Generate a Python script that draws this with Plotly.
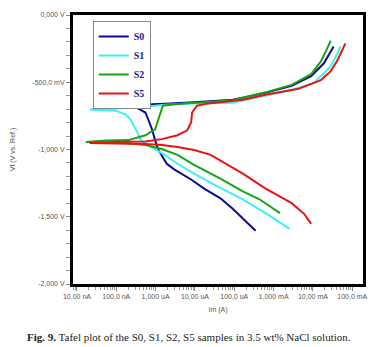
import plotly.graph_objects as go

# ---------------- data (current in A, potential in V) ----------------
s0_i = [3.48e-4, 1.65e-4, 9.3e-5, 4.45e-5, 1.68e-5, 8.0e-6, 3.03e-6, 1.92e-6, 1.44e-6, 1.15e-6,
        9.7e-7, 8.1e-7, 6.5e-7, 5.5e-7, 3.66e-7, 3.08e-7, 9.8e-8, 3.5e-8,
        9.8e-8, 3.08e-7, 1.71e-6, 9.5e-6, 9.3e-5, 6.15e-4, 2.88e-3, 9.0e-3, 1.9e-2, 2.83e-2, 3.36e-2]
s0_e = [-1.604, -1.509, -1.443, -1.363, -1.289, -1.223, -1.150, -1.106, -1.040, -0.996,
        -0.930, -0.850, -0.777, -0.725, -0.696, -0.689, -0.685, -0.681,
        -0.674, -0.670, -0.659, -0.648, -0.630, -0.579, -0.527, -0.454, -0.359, -0.271, -0.234]

s1_i = [2.56e-3, 5.19e-4, 1.65e-4, 9.3e-5, 2.98e-5, 9.5e-6, 3.6e-6, 1.71e-6, 9.7e-7, 6.5e-7,
        4.86e-7, 4.1e-7, 3.45e-7, 2.75e-7, 2.32e-7, 1.74e-7, 9.8e-8, 3.13e-8, 2.1e-8,
        3.13e-8, 9.8e-8, 3.08e-7, 1.71e-6, 9.5e-6, 9.3e-5, 6.15e-4, 2.88e-3, 1.07e-2, 2.83e-2, 4.2e-2, 5.0e-2]
s1_e = [-1.590, -1.458, -1.370, -1.333, -1.260, -1.179, -1.106, -1.040, -0.996, -0.967,
        -0.945, -0.923, -0.872, -0.821, -0.777, -0.740, -0.711, -0.707, -0.703,
        -0.700, -0.696, -0.689, -0.667, -0.656, -0.652, -0.601, -0.557, -0.505, -0.381, -0.286, -0.234]

s2_i = [1.45e-3, 4.37e-4, 1.65e-4, 4.45e-5, 9.5e-6, 3.6e-6, 1.44e-6, 5.5e-7, 1.74e-7, 5.5e-8, 1.67e-8,
        5.5e-8, 2.07e-7, 5.5e-7, 9.7e-7, 1.15e-6, 1.44e-6, 1.53e-6, 3.03e-6, 9.5e-6, 9.3e-5,
        6.15e-4, 2.88e-3, 9.0e-3, 1.6e-2, 2.25e-2, 2.83e-2]
s2_e = [-1.473, -1.370, -1.311, -1.216, -1.114, -1.040, -0.996, -0.967, -0.952, -0.949, -0.945,
        -0.934, -0.930, -0.894, -0.850, -0.784, -0.703, -0.674, -0.663, -0.652, -0.634,
        -0.575, -0.520, -0.440, -0.344, -0.256, -0.190]

s5_i = [9.0e-3, 6.05e-3, 2.88e-3, 6.15e-4, 1.65e-4, 6.27e-5, 2.51e-5, 9.5e-6, 3.6e-6, 1.44e-6,
        5.5e-7, 9.8e-8, 2.1e-8,
        9.8e-8, 5.5e-7, 1.44e-6, 3.6e-6, 6.37e-6, 8.0e-6, 8.47e-6, 1.13e-5, 2.0e-5, 1.65e-4,
        6.15e-4, 4.3e-3, 1.6e-2, 2.83e-2, 4.2e-2, 5.6e-2, 6.67e-2]
s5_e = [-1.553, -1.480, -1.399, -1.289, -1.179, -1.106, -1.040, -1.004, -0.982, -0.967,
        -0.960, -0.956, -0.952,
        -0.945, -0.941, -0.923, -0.894, -0.857, -0.799, -0.725, -0.674, -0.659, -0.630,
        -0.593, -0.549, -0.484, -0.418, -0.337, -0.264, -0.212]

series_names = ["S0", "S1", "S2", "S5"]
series_colors = ["#0b0b96", "#3ff0f0", "#16a316", "#e81414"]

x_tick_vals = [1e-8, 1e-7, 1e-6, 1e-5, 1e-4, 1e-3, 1e-2, 1e-1]
x_tick_text = ["10,00 nA", "100,0 nA", "1,000 uA", "10,00 uA", "100,0 uA", "1,000 mA", "10,00 mA", "100,0 mA"]
y_tick_vals = [0, -0.5, -1.0, -1.5, -2.0]
y_tick_text = ["0,000 V", "-500,0 mV", "-1,000 V", "-1,500 V", "-2,000 V"]

caption = "<b>Fig. 9.</b> Tafel plot of the S0, S1, S2, S5 samples in 3.5 wt% NaCl solution."

# ---------------- figure ----------------
fig = go.Figure()
for name, color, xi, ye in zip(series_names, series_colors,
                               [s0_i, s1_i, s2_i, s5_i], [s0_e, s1_e, s2_e, s5_e]):
    fig.add_trace(go.Scatter(x=xi, y=ye, mode="lines", name="<b>" + name + "</b>",
                             line=dict(color=color, width=2)))

minor_x = [k * 10.0 ** e for e in range(-9, 0) for k in range(2, 10)]

tick_font = dict(family="Liberation Sans, Arial, sans-serif", size=7, color="#555555")

fig.update_layout(
    width=385, height=347,
    margin=dict(l=66, r=22, t=11, b=63),
    paper_bgcolor="white", plot_bgcolor="white",
    showlegend=True,
    legend=dict(x=0.068, y=0.978, xanchor="left", yanchor="top",
                bgcolor="white", bordercolor="#888888", borderwidth=1,
                font=dict(family="Liberation Serif, Times New Roman, serif", size=10, color="#1c1c8c"),
                itemwidth=30, tracegroupgap=0),
    xaxis=dict(type="log", range=[-8.1, -0.727],
               tickmode="array", tickvals=x_tick_vals, ticktext=x_tick_text,
               ticks="outside", ticklen=4, tickcolor="#888888", tickwidth=1,
               minor=dict(tickmode="array", tickvals=minor_x, ticks="outside", ticklen=3,
                          tickcolor="#999999", showgrid=False),
               showgrid=False, zeroline=False,
               showline=True, linecolor="black", linewidth=3, mirror=True,
               tickfont=tick_font,
               title=dict(text="Im (A)", font=tick_font, standoff=8)),
    yaxis=dict(range=[-2.0, 0.0],
               tickmode="array", tickvals=y_tick_vals, ticktext=y_tick_text,
               ticks="outside", ticklen=4, tickcolor="#888888", tickwidth=1,
               minor=dict(dtick=0.1, ticks="outside", ticklen=4, tickcolor="#999999", showgrid=False),
               showgrid=False, zeroline=False,
               showline=True, linecolor="black", linewidth=3, mirror=True,
               tickfont=tick_font,
               title=dict(text="Vf (V vs. Ref.)", font=tick_font, standoff=16)),
    annotations=[dict(text=caption, xref="paper", yref="paper", x=0.40, y=-0.198,
                      xanchor="center", yanchor="middle", showarrow=False,
                      font=dict(family="Liberation Serif, Times New Roman, serif", size=11, color="#222222"))],
)

fig.write_html("out.html")
